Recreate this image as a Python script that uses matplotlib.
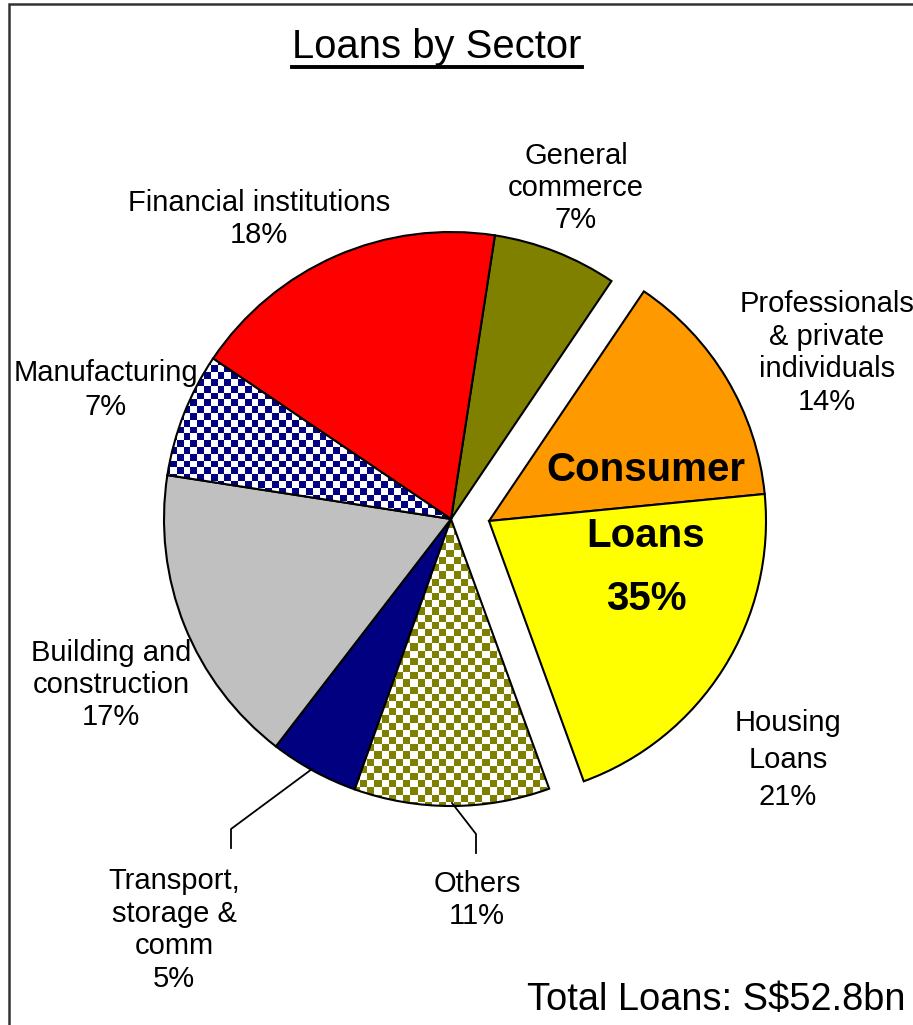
import numpy as np
import matplotlib
matplotlib.use('Agg')
import matplotlib.pyplot as plt
from matplotlib.colors import ListedColormap
from matplotlib.patches import Rectangle

# --- data (shares of total loans, %), clockwise from 12 o'clock ---
sectors = ['General commerce', 'Professionals & private individuals', 'Housing Loans',
           'Others', 'Transport, storage & comm', 'Building and construction',
           'Manufacturing', 'Financial institutions']
shares = [7, 14, 21, 11, 5, 17, 7, 18]
labels = ['General\ncommerce\n7%', 'Professionals\n& private\nindividuals\n14%',
          'Housing\nLoans\n21%', 'Others\n11%', 'Transport,\nstorage &\ncomm\n5%',
          'Building and\nconstruction\n17%', 'Manufacturing\n7%',
          'Financial institutions\n18%']
colors = ['#808000', '#FF9900', '#FFFF00', '#808000', '#000080', '#C0C0C0',
          '#000080', '#FF0000']
checkered = {3: ('#808000', 7.2), 6: ('#000080', 6.8)}   # index -> (colour, cell px)
exploded = [1, 2]   # consumer loans
title = 'Loans by Sector'
total_text = 'Total Loans: S$52.8bn'
consumer_text = ['Consumer', 'Loans', '35%']

W, H = 913, 1025
FONT = 'Liberation Sans'


def Y(y):
    # pixel row (from top) -> data y
    return H - y


fig = plt.figure(figsize=(W / 100, H / 100), dpi=100)
ax = fig.add_axes([0, 0, 1, 1])

cx, cy, r = 451, 519, 287
wedges, _ = ax.pie(shares, colors=colors, startangle=81.2, counterclock=False,
                   center=(cx, Y(cy)), radius=r,
                   wedgeprops=dict(edgecolor='black', linewidth=1.5))

# pull the two consumer-loan slices out together
for i in exploded:
    wedges[i].set_center((cx + 38, Y(cy + 2)))
    wedges[i].set_radius(277)

# checkerboard fills
for i, (col, cell) in checkered.items():
    w = wedges[i]
    w.set_facecolor('none')
    w.set_zorder(3)
    nx, ny = int(W / cell) + 1, int(H / cell) + 1
    board = (np.add.outer(np.arange(ny), np.arange(nx)) % 2).astype(float)
    im = ax.imshow(board, cmap=ListedColormap(['white', col]), interpolation='nearest',
                   extent=[0, nx * cell, 0, ny * cell], origin='lower', zorder=2)
    im.set_clip_path(w)

# slice labels (pixel centres)
label_pos = [(576, 188), (827, 353), (788, 760), (477, 900), (174, 930),
             (111, 685), (106, 390), (259, 219)]
spacing = [1.2, 1.2, 1.4, 1.2, 1.2, 1.2, 1.25, 1.2]
for txt, (x, y), ls in zip(labels, label_pos, spacing):
    ax.text(x, Y(y), txt, ha='center', va='center', fontsize=21,
            family=FONT, linespacing=ls, zorder=5)

# leader lines
ax.plot([312, 231, 231], [Y(769), Y(829), Y(848)], color='black', lw=1.3, zorder=4)
ax.plot([452, 476, 476], [Y(803), Y(834), Y(853)], color='black', lw=1.3, zorder=4)

# consumer loans overlay text
for txt, y in zip(consumer_text, [470, 536, 599]):
    ax.text(646, Y(y), txt, ha='center', va='center', fontsize=29,
            fontweight='bold', family=FONT, zorder=5)

t = ax.text(437, Y(47), title, ha='center', va='center', fontsize=28.8, family=FONT)
ax.text(716, Y(1000), total_text, ha='center', va='center', fontsize=27.4, family=FONT)

# outer frame
ax.add_patch(Rectangle((9, Y(1100)), 1000, 1096, fill=False, edgecolor='#333333',
                       lw=1.8, zorder=6))

ax.set_xlim(0, W)
ax.set_ylim(0, H)
ax.set_aspect('equal')
ax.axis('off')

# underline for the title
fig.canvas.draw()
bb = t.get_window_extent().transformed(ax.transData.inverted())
ax.plot([bb.x0, bb.x1], [Y(67), Y(67)], color='black', lw=2.8)

fig.savefig('out.png', dpi=100)
